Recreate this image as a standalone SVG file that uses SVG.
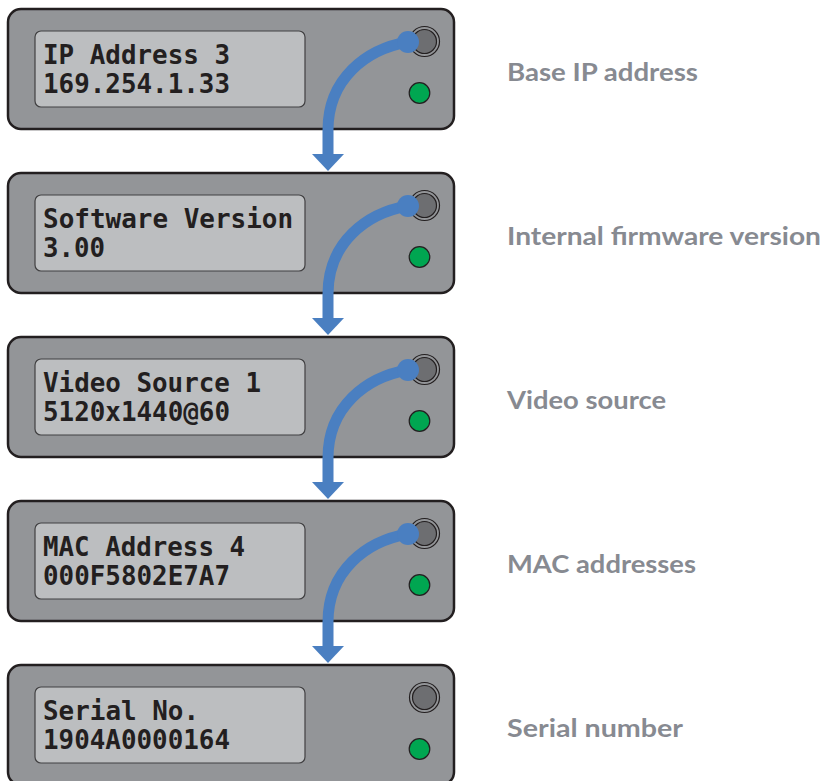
<svg xmlns="http://www.w3.org/2000/svg" width="827" height="781" viewBox="0 0 827 781">
<defs>
<style>
.panel{fill:#939598;stroke:#231f20;stroke-width:2.5}
.lcd{fill:#bcbec0;stroke:#414042;stroke-width:1.2}
.lcdt{font-family:"DejaVu Sans Mono","Liberation Mono",monospace;font-size:26px;font-weight:700;fill:#231f20}
.ring{fill:#939598;stroke:#231f20;stroke-width:1.2}
.btn{fill:#6d6e71;stroke:#231f20;stroke-width:1.2}
.led{fill:#00a651;stroke:#231f20;stroke-width:1.2}
.lbl{font-family:Lato,"Open Sans","Liberation Sans",sans-serif;font-weight:700;font-size:24px;fill:#878a91}
.arc{fill:none;stroke:#4a7fc1;stroke-width:11}
.dot{fill:#4a7fc1}
</style>
<g id="unit">
<rect class="panel" x="8" y="0" width="446" height="120" rx="13"/>
<rect class="lcd" x="35" y="22" width="270" height="76" rx="6"/>
<circle class="ring" cx="424.5" cy="32.5" r="15"/>
<circle class="btn" cx="424.5" cy="32.5" r="12"/>
<circle class="led" cx="419.5" cy="84" r="10.3"/>
</g>
<g id="arrowshape">
<path class="arc" d="M408,33 C366,40 328,70 328,121 L328,146"/>
<circle class="dot" cx="408" cy="33" r="11"/>
<polygon class="dot" points="312,145 344,145 328,162"/>
</g>
</defs>
<g id="node1" transform="translate(0,9)">
<use href="#unit"/>
<text class="lcdt" x="43" y="55" textLength="187" lengthAdjust="spacingAndGlyphs">IP Address 3</text>
<text class="lcdt" x="43" y="84" textLength="187" lengthAdjust="spacingAndGlyphs">169.254.1.33</text>
</g>
<g id="node2" transform="translate(0,173)">
<use href="#unit"/>
<text class="lcdt" x="43" y="55" textLength="250" lengthAdjust="spacingAndGlyphs">Software Version</text>
<text class="lcdt" x="43" y="84" textLength="62" lengthAdjust="spacingAndGlyphs">3.00</text>
</g>
<g id="node3" transform="translate(0,337)">
<use href="#unit"/>
<text class="lcdt" x="43" y="55" textLength="218" lengthAdjust="spacingAndGlyphs">Video Source 1</text>
<text class="lcdt" x="43" y="84" textLength="187" lengthAdjust="spacingAndGlyphs">5120x1440@60</text>
</g>
<g id="node4" transform="translate(0,501)">
<use href="#unit"/>
<text class="lcdt" x="43" y="55" textLength="202" lengthAdjust="spacingAndGlyphs">MAC Address 4</text>
<text class="lcdt" x="43" y="84" textLength="187" lengthAdjust="spacingAndGlyphs">000F5802E7A7</text>
</g>
<g id="node5" transform="translate(0,665)">
<use href="#unit"/>
<text class="lcdt" x="43" y="55" textLength="156" lengthAdjust="spacingAndGlyphs">Serial No.</text>
<text class="lcdt" x="43" y="84" textLength="187" lengthAdjust="spacingAndGlyphs">1904A0000164</text>
</g>
<g id="labels">
<text class="lbl" x="507" y="81" textLength="191" lengthAdjust="spacingAndGlyphs">Base IP address</text>
<text class="lbl" x="507" y="245" textLength="314" lengthAdjust="spacingAndGlyphs">Internal firmware version</text>
<text class="lbl" x="507" y="409" textLength="159" lengthAdjust="spacingAndGlyphs">Video source</text>
<text class="lbl" x="507" y="573" textLength="189" lengthAdjust="spacingAndGlyphs">MAC addresses</text>
<text class="lbl" x="507" y="737" textLength="176" lengthAdjust="spacingAndGlyphs">Serial number</text>
</g>
<g id="connectors">
<use href="#arrowshape" transform="translate(0,9)"/>
<use href="#arrowshape" transform="translate(0,173)"/>
<use href="#arrowshape" transform="translate(0,337)"/>
<use href="#arrowshape" transform="translate(0,501)"/>
</g>
</svg>
